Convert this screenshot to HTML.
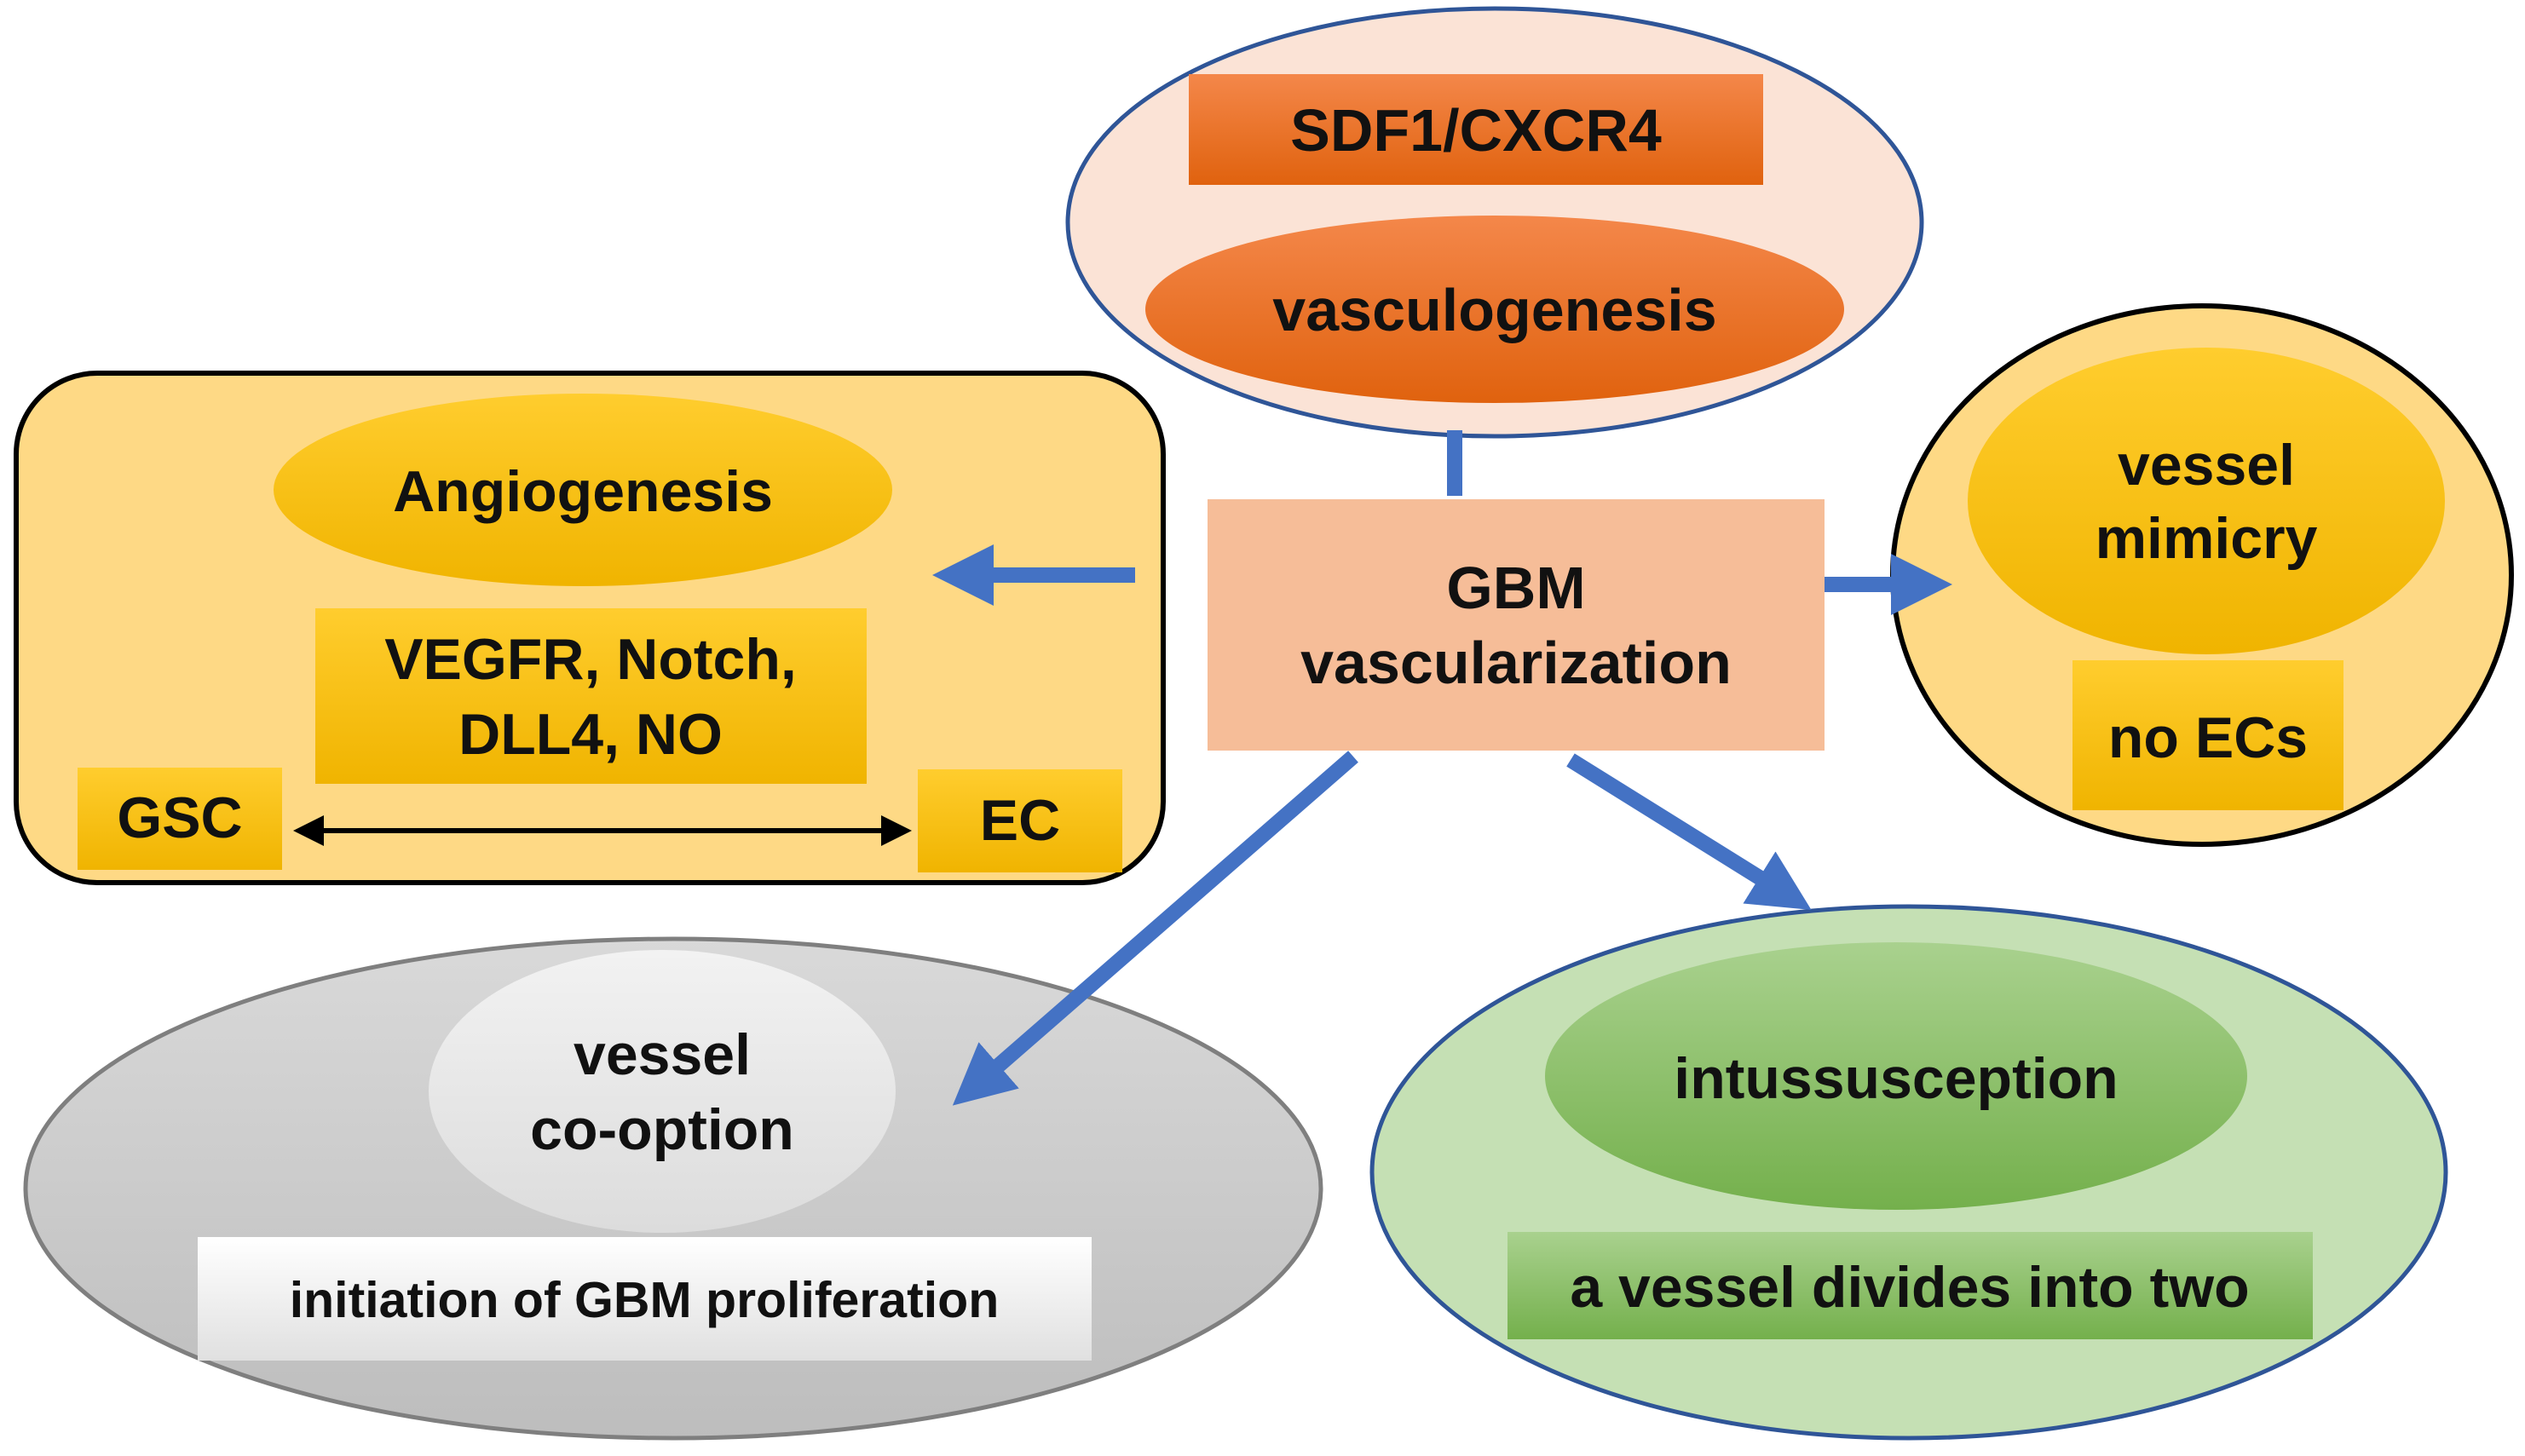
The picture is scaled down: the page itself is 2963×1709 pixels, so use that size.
<!DOCTYPE html>
<html><head><meta charset="utf-8"><style>
html,body{margin:0;padding:0;background:#fff;}
svg{display:block;}
text{font-family:"Liberation Sans",Arial,sans-serif;font-weight:bold;fill:#111;text-anchor:middle;}
</style></head><body>
<svg width="2963" height="1709" viewBox="0 0 2963 1709" xmlns="http://www.w3.org/2000/svg">
<defs>
<linearGradient id="og" x1="0" y1="0" x2="0" y2="1"><stop offset="0" stop-color="#f4874a"/><stop offset="1" stop-color="#e0620e"/></linearGradient>
<linearGradient id="gd" x1="0" y1="0" x2="0" y2="1"><stop offset="0" stop-color="#ffcd2e"/><stop offset="1" stop-color="#f0b400"/></linearGradient>
<linearGradient id="gr" x1="0" y1="0" x2="0" y2="1"><stop offset="0" stop-color="#d9d9d9"/><stop offset="1" stop-color="#bdbdbd"/></linearGradient>
<linearGradient id="lg" x1="0" y1="0" x2="0" y2="1"><stop offset="0" stop-color="#f2f2f2"/><stop offset="1" stop-color="#dcdcdc"/></linearGradient>
<linearGradient id="wg" x1="0" y1="0" x2="0" y2="1"><stop offset="0" stop-color="#ffffff"/><stop offset="1" stop-color="#e0e0e0"/></linearGradient>
<linearGradient id="gn" x1="0" y1="0" x2="0" y2="1"><stop offset="0" stop-color="#a9d18e"/><stop offset="1" stop-color="#74b04c"/></linearGradient>
<marker id="ah" markerWidth="4" markerHeight="4" refX="2" refY="2" orient="auto" markerUnits="strokeWidth"><path d="M0,0 L4,2 L0,4 z" fill="#4472c4"/></marker>
<marker id="bk" markerWidth="6" markerHeight="6" refX="5" refY="3" orient="auto-start-reverse" markerUnits="strokeWidth"><path d="M0,0 L6,3 L0,6 z" fill="#000"/></marker>
</defs>

<ellipse cx="1754" cy="261" rx="501" ry="251" fill="#fbe3d6" stroke="#2f5597" stroke-width="5"/>
<rect x="1395" y="87" width="674" height="130" fill="url(#og)"/>
<text x="1732" y="177" font-size="70">SDF1/CXCR4</text>
<ellipse cx="1754" cy="363" rx="410" ry="110" fill="url(#og)"/>
<text x="1754" y="388" font-size="70">vasculogenesis</text>

<rect x="19" y="438" width="1346" height="598" rx="95" fill="#fed985" stroke="#000" stroke-width="6"/>
<ellipse cx="684" cy="575" rx="363" ry="113" fill="url(#gd)"/>
<text x="684" y="600" font-size="68">Angiogenesis</text>
<rect x="370" y="714" width="647" height="206" fill="url(#gd)"/>
<text x="693" y="797" font-size="68">VEGFR, Notch,</text>
<text x="693" y="885" font-size="68">DLL4, NO</text>
<rect x="91" y="901" width="240" height="120" fill="url(#gd)"/>
<text x="211" y="983" font-size="68">GSC</text>
<rect x="1077" y="903" width="240" height="121" fill="url(#gd)"/>
<text x="1197" y="986" font-size="68">EC</text>
<line x1="350" y1="975" x2="1064" y2="975" stroke="#000" stroke-width="6" marker-start="url(#bk)" marker-end="url(#bk)"/>

<ellipse cx="2584" cy="675" rx="363" ry="316" fill="#fed985" stroke="#000" stroke-width="6"/>
<ellipse cx="2589" cy="588" rx="280" ry="180" fill="url(#gd)"/>
<text x="2589" y="569" font-size="68">vessel</text>
<text x="2589" y="655" font-size="68">mimicry</text>
<rect x="2432" y="775" width="318" height="176" fill="url(#gd)"/>
<text x="2591" y="889" font-size="68">no ECs</text>

<ellipse cx="790" cy="1395" rx="760" ry="293" fill="url(#gr)" stroke="#7f7f7f" stroke-width="5"/>
<ellipse cx="777" cy="1281" rx="274" ry="166" fill="url(#lg)"/>
<text x="777" y="1261" font-size="68">vessel</text>
<text x="777" y="1349" font-size="68">co-option</text>
<rect x="232" y="1452" width="1049" height="145" fill="url(#wg)"/>
<text x="756" y="1546" font-size="59">initiation of GBM proliferation</text>

<ellipse cx="2240" cy="1376" rx="630" ry="312" fill="#c5e0b4" stroke="#2f5597" stroke-width="5"/>
<ellipse cx="2225" cy="1263" rx="412" ry="157" fill="url(#gn)"/>
<text x="2225" y="1289" font-size="68">intussusception</text>
<rect x="1769" y="1446" width="945" height="126" fill="url(#gn)"/>
<text x="2241" y="1534" font-size="68">a vessel divides into two</text>

<rect x="1417" y="586" width="724" height="295" fill="#f6bd98"/>
<text x="1779" y="714" font-size="70">GBM</text>
<text x="1779" y="802" font-size="70">vascularization</text>

<line x1="1707" y1="582" x2="1707" y2="505" stroke="#4472c4" stroke-width="18"/>
<line x1="1332" y1="675" x2="1130" y2="675" stroke="#4472c4" stroke-width="18" marker-end="url(#ah)"/>
<line x1="2141" y1="686" x2="2255" y2="686" stroke="#4472c4" stroke-width="18" marker-end="url(#ah)"/>
<line x1="1588" y1="888" x2="1145" y2="1274" stroke="#4472c4" stroke-width="18" marker-end="url(#ah)"/>
<line x1="1843" y1="892" x2="2095" y2="1049" stroke="#4472c4" stroke-width="18" marker-end="url(#ah)"/>
</svg>
</body></html>
